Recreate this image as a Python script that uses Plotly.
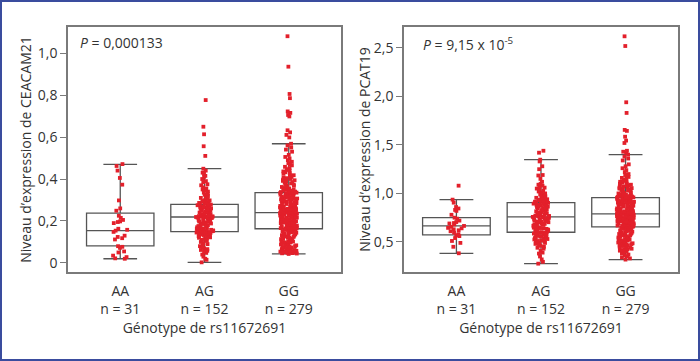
import plotly.graph_objects as go
from plotly.subplots import make_subplots

genotypes = ["AA", "AG", "GG"]
counts = [31, 152, 279]

# ---- CEACAM21 expression (left panel) ----
cea_AA = [0.471, 0.462, 0.44, 0.405, 0.373, 0.298, 0.26, 0.249, 0.225, 0.215, 0.205,
          0.198, 0.195, 0.19, 0.163, 0.158, 0.154, 0.148, 0.13, 0.124, 0.118, 0.112,
          0.08, 0.077, 0.072, 0.055, 0.05, 0.035, 0.028, 0.022, 0.02]
cea_AG = [0.776, 0.649, 0.613, 0.556, 0.51, 0.449, 0.44, 0.43, 0.425, 0.415, 0.41, 0.40,
          0.39, 0.385, 0.375, 0.37, 0.36, 0.355, 0.35, 0.345, 0.34, 0.335, 0.33, 0.325,
          0.32, 0.315, 0.31, 0.305, 0.30, 0.298, 0.295, 0.292, 0.29, 0.288, 0.286, 0.284,
          0.282, 0.28,
          0.278, 0.276, 0.275, 0.273, 0.27, 0.268, 0.267, 0.265, 0.262, 0.26, 0.258, 0.256,
          0.255, 0.252, 0.25, 0.248, 0.246, 0.245, 0.243, 0.241, 0.24, 0.238, 0.236, 0.235,
          0.233, 0.231, 0.23, 0.229, 0.227, 0.226, 0.225, 0.224, 0.223, 0.222, 0.221, 0.22,
          0.22, 0.219,
          0.218, 0.216, 0.214, 0.212, 0.21, 0.208, 0.205, 0.203, 0.2, 0.198, 0.196, 0.193,
          0.19, 0.188, 0.186, 0.184, 0.182, 0.18, 0.178, 0.176, 0.174, 0.172, 0.17, 0.168,
          0.166, 0.165, 0.163, 0.162, 0.16, 0.159, 0.158, 0.156, 0.155, 0.154, 0.153, 0.152,
          0.151, 0.15,
          0.148, 0.147, 0.146, 0.145, 0.143, 0.142, 0.14, 0.138, 0.137, 0.135, 0.133, 0.131,
          0.13, 0.128, 0.125, 0.122, 0.12, 0.117, 0.114, 0.11, 0.105, 0.1, 0.095, 0.09,
          0.085, 0.08, 0.075, 0.07, 0.066, 0.062, 0.058, 0.053, 0.048, 0.04, 0.03, 0.02,
          0.015, 0.003]
cea_GG = [1.08, 0.935, 0.805, 0.785, 0.722, 0.715, 0.705, 0.698, 0.632, 0.622, 0.61, 0.598,
          0.568, 0.56, 0.55, 0.54, 0.53, 0.515, 0.505, 0.498, 0.49, 0.482, 0.475, 0.47, 0.465,
          0.458, 0.452, 0.447, 0.443, 0.44, 0.436, 0.432, 0.428, 0.425, 0.421, 0.418, 0.414,
          0.41, 0.407, 0.404, 0.40, 0.397, 0.394, 0.391, 0.388, 0.385, 0.382, 0.379, 0.376,
          0.373, 0.37, 0.368, 0.365, 0.362, 0.36, 0.357, 0.355, 0.352, 0.35, 0.348, 0.346,
          0.344, 0.342, 0.34, 0.339, 0.338, 0.337, 0.336, 0.335, 0.335,
          0.334, 0.333, 0.331, 0.33, 0.328, 0.327, 0.325, 0.323, 0.322, 0.32,
          0.318, 0.317, 0.315, 0.314, 0.312, 0.31, 0.309, 0.307, 0.306, 0.304,
          0.302, 0.301, 0.299, 0.298, 0.296, 0.295, 0.293, 0.291, 0.29, 0.288,
          0.287, 0.285, 0.284, 0.282, 0.281, 0.279, 0.278, 0.276, 0.275, 0.273,
          0.272, 0.27, 0.269, 0.267, 0.266, 0.264, 0.263, 0.262, 0.26, 0.259,
          0.258, 0.256, 0.255, 0.254, 0.253, 0.252, 0.25, 0.249, 0.248, 0.247,
          0.246, 0.245, 0.244, 0.244, 0.243, 0.242, 0.242, 0.241, 0.24,
          0.24,
          0.239, 0.238, 0.237, 0.236, 0.235, 0.234, 0.233, 0.232, 0.231, 0.23,
          0.229, 0.227, 0.226, 0.225, 0.224, 0.222, 0.221, 0.22, 0.219, 0.217,
          0.216, 0.215, 0.213, 0.212, 0.211, 0.209, 0.208, 0.207, 0.205, 0.204,
          0.203, 0.201, 0.2, 0.199, 0.197, 0.196, 0.195, 0.193, 0.192, 0.191,
          0.189, 0.188, 0.187, 0.185, 0.184, 0.183, 0.181, 0.18, 0.179, 0.178,
          0.177, 0.175, 0.174, 0.173, 0.172, 0.171, 0.17, 0.169, 0.168, 0.167,
          0.166, 0.166, 0.165, 0.165, 0.164, 0.164, 0.163, 0.163, 0.163,
          0.162, 0.161, 0.16, 0.158, 0.157, 0.155, 0.154, 0.152, 0.15, 0.149,
          0.147, 0.145, 0.144, 0.142, 0.14, 0.138, 0.136, 0.134, 0.132, 0.13,
          0.128, 0.126, 0.124, 0.122, 0.12, 0.118, 0.116, 0.114, 0.112, 0.11,
          0.108, 0.106, 0.104, 0.102, 0.1, 0.098, 0.096, 0.094, 0.092, 0.09,
          0.088, 0.086, 0.084, 0.082, 0.08, 0.078, 0.076, 0.074, 0.072, 0.07,
          0.068, 0.066, 0.064, 0.062, 0.06, 0.058, 0.057, 0.056, 0.055, 0.054,
          0.053, 0.052, 0.051, 0.05, 0.049, 0.048, 0.047, 0.046, 0.045, 0.043]
cea_q1 = [0.081, 0.149, 0.163]
cea_median = [0.154, 0.219, 0.240]
cea_q3 = [0.237, 0.279, 0.335]
cea_lower = [0.020, 0.003, 0.043]
cea_upper = [0.470, 0.449, 0.568]

# ---- PCAT19 expression (right panel) ----
pcat_AA = [1.08, 0.936, 0.905, 0.86, 0.845, 0.83, 0.82, 0.78, 0.75, 0.74, 0.72, 0.705,
           0.695, 0.69, 0.68, 0.665, 0.655, 0.645, 0.64, 0.63, 0.62, 0.61, 0.595, 0.58,
           0.57, 0.56, 0.54, 0.51, 0.49, 0.45, 0.383]
pcat_AG = [1.44, 1.42, 1.348, 1.33, 1.28, 1.25, 1.19, 1.185, 1.15, 1.12, 1.1, 1.09, 1.08,
           1.07, 1.06, 1.05, 1.04, 1.03, 1.02, 1.01, 1.0, 0.99, 0.985, 0.975, 0.97, 0.96,
           0.955, 0.95, 0.945, 0.94, 0.935, 0.93, 0.925, 0.92, 0.915, 0.912, 0.908, 0.906,
           0.903, 0.899, 0.895, 0.89, 0.886, 0.882, 0.878, 0.873, 0.868, 0.864,
           0.86, 0.855, 0.85, 0.846, 0.842, 0.838, 0.833, 0.829, 0.825, 0.82,
           0.816, 0.812, 0.808, 0.804, 0.8, 0.796, 0.792, 0.788, 0.784, 0.78,
           0.777, 0.774, 0.771, 0.768, 0.765, 0.762, 0.76, 0.758,
           0.755, 0.751, 0.747, 0.743, 0.739, 0.735, 0.731, 0.727, 0.723, 0.719,
           0.715, 0.711, 0.707, 0.703, 0.699, 0.695, 0.691, 0.687, 0.683, 0.679,
           0.675, 0.671, 0.667, 0.663, 0.659, 0.655, 0.651, 0.647, 0.643, 0.639,
           0.635, 0.631, 0.627, 0.622, 0.617, 0.612, 0.606, 0.601,
           0.598, 0.594, 0.59, 0.586, 0.582, 0.578, 0.574, 0.57, 0.565, 0.56,
           0.555, 0.55, 0.545, 0.54, 0.535, 0.53, 0.525, 0.52, 0.515, 0.51,
           0.505, 0.5, 0.495, 0.49, 0.485, 0.48, 0.47, 0.46, 0.45, 0.44,
           0.43, 0.41, 0.39, 0.38, 0.35, 0.32, 0.295, 0.276]
pcat_GG = [2.62, 2.52, 1.94, 1.83, 1.655, 1.645, 1.585, 1.545, 1.52, 1.44, 1.43, 1.42,
           1.40,
           1.38, 1.36, 1.34, 1.3, 1.28, 1.26, 1.24, 1.22, 1.2, 1.19,
           1.18, 1.17, 1.16, 1.15, 1.14, 1.13, 1.125, 1.12, 1.11, 1.105,
           1.1, 1.095, 1.09, 1.085, 1.08, 1.075, 1.07, 1.065, 1.06, 1.055,
           1.05, 1.045, 1.04, 1.035, 1.03, 1.025, 1.02, 1.015, 1.01, 1.005,
           1.0, 0.996, 0.992, 0.988, 0.985, 0.982, 0.979, 0.976, 0.973, 0.97,
           0.968, 0.966, 0.964, 0.962, 0.96, 0.959, 0.958,
           0.955, 0.953, 0.95, 0.948, 0.945, 0.943, 0.94, 0.938, 0.935, 0.933,
           0.93, 0.928, 0.925, 0.923, 0.92, 0.918, 0.915, 0.913, 0.91, 0.908,
           0.905, 0.903, 0.9, 0.897, 0.894, 0.891, 0.888, 0.885, 0.882, 0.879,
           0.876, 0.873, 0.87, 0.867, 0.864, 0.861, 0.858, 0.855, 0.852, 0.849,
           0.846, 0.843, 0.84, 0.837, 0.834, 0.831, 0.828, 0.825, 0.822, 0.819,
           0.816, 0.813, 0.81, 0.808, 0.806, 0.804, 0.802, 0.8, 0.798, 0.797,
           0.796, 0.795, 0.794, 0.793, 0.792, 0.792, 0.791, 0.791, 0.79,
           0.79,
           0.789, 0.787, 0.785, 0.783, 0.781, 0.779, 0.777, 0.775, 0.773, 0.771,
           0.769, 0.767, 0.765, 0.763, 0.761, 0.759, 0.757, 0.755, 0.753, 0.751,
           0.749, 0.747, 0.745, 0.743, 0.741, 0.739, 0.737, 0.735, 0.733, 0.731,
           0.729, 0.727, 0.725, 0.723, 0.721, 0.719, 0.717, 0.715, 0.713, 0.711,
           0.709, 0.707, 0.705, 0.703, 0.701, 0.699, 0.697, 0.695, 0.693, 0.691,
           0.689, 0.687, 0.685, 0.683, 0.681, 0.679, 0.677, 0.675, 0.673, 0.671,
           0.669, 0.667, 0.665, 0.663, 0.661, 0.659, 0.658, 0.657, 0.656,
           0.654, 0.65, 0.646, 0.642, 0.638, 0.634, 0.63, 0.626, 0.622, 0.618,
           0.614, 0.61, 0.606, 0.602, 0.598, 0.594, 0.59, 0.586, 0.582, 0.578,
           0.574, 0.57, 0.566, 0.562, 0.558, 0.554, 0.55, 0.546, 0.542, 0.538,
           0.534, 0.53, 0.526, 0.522, 0.518, 0.514, 0.51, 0.506, 0.502, 0.498,
           0.494, 0.49, 0.486, 0.482, 0.478, 0.474, 0.47, 0.466, 0.462, 0.458,
           0.454, 0.45, 0.445, 0.44, 0.435, 0.43, 0.425, 0.42, 0.415, 0.41,
           0.405, 0.4, 0.39, 0.38, 0.37, 0.36, 0.35, 0.34, 0.33, 0.318]
pcat_q1 = [0.572, 0.600, 0.655]
pcat_median = [0.665, 0.758, 0.790]
pcat_q3 = [0.750, 0.905, 0.957]
pcat_lower = [0.383, 0.276, 0.318]
pcat_upper = [0.936, 1.348, 1.400]

left_ticks = [0, 0.2, 0.4, 0.6, 0.8, 1.0]
left_ticktext = ["0", "0,2", "0,4", "0,6", "0,8", "1,0"]
right_ticks = [0.5, 1.0, 1.5, 2.0, 2.5]
right_ticktext = ["0,5", "1,0", "1,5", "2,0", "2,5"]

xlabels = [f"{g}<br>n = {n}" for g, n in zip(genotypes, counts)]
x_title = "Génotype de rs11672691"
y_titles = ["Niveau d’expression de CEACAM21", "Niveau d’expression de PCAT19"]
p_texts = ["<i>P</i> = 0,000133", "<i>P</i> = 9,15 x 10<sup>-5</sup>"]

RED = "#e3202b"
BOXC = "#555555"
FRAME = "#7a7a7a"
TXT = "#333333"
FONT = "Open Sans"

W, H = 700, 361
ML, MR, MT, MB = 68, 22, 27, 89

fig = make_subplots(rows=1, cols=2, horizontal_spacing=0.1033)

panels = [
    (cea_AA, cea_AG, cea_GG, cea_q1, cea_median, cea_q3, cea_lower, cea_upper),
    (pcat_AA, pcat_AG, pcat_GG, pcat_q1, pcat_median, pcat_q3, pcat_lower, pcat_upper),
]

for c, (a, b, g, q1, med, q3, lo, up) in enumerate(panels, start=1):
    fig.add_trace(go.Box(
        x=genotypes, q1=q1, median=med, q3=q3, lowerfence=lo, upperfence=up,
        boxpoints=False, fillcolor="white", width=0.8, whiskerwidth=0.5,
        line=dict(color=BOXC, width=1.3), showlegend=False, hoverinfo="skip"),
        row=1, col=c)
    groups = [a, b, g]
    xs = [gt for gt, vals in zip(genotypes, groups) for _ in vals]
    ys = [v for vals in groups for v in vals]
    fig.add_trace(go.Box(
        x=xs, y=ys, boxpoints="all", jitter=0.26, pointpos=0, width=0.8,
        fillcolor="rgba(0,0,0,0)", line=dict(color="rgba(0,0,0,0)", width=0),
        whiskerwidth=0,
        marker=dict(symbol="square", size=3.8, color=RED, line=dict(width=0)),
        showlegend=False), row=1, col=c)

fig.update_layout(
    width=W, height=H, margin=dict(l=ML, r=MR, t=MT, b=MB),
    paper_bgcolor="white", plot_bgcolor="white", boxmode="overlay",
    font=dict(family=FONT, size=14, color=TXT), showlegend=False,
)

for c in (1, 2):
    fig.update_xaxes(
        row=1, col=c, type="category", categoryorder="array", categoryarray=genotypes,
        range=[-0.62, 2.62], tickvals=genotypes, ticktext=xlabels,
        ticks="outside", ticklen=5, tickcolor="rgba(0,0,0,0)",
        showline=True, mirror=True, linecolor=FRAME, linewidth=1.5, showgrid=False,
        zeroline=False, tickfont=dict(size=14, color=TXT),
        title=dict(text=x_title, standoff=2, font=dict(size=14, color=TXT)))

fig.update_yaxes(row=1, col=1, range=[-0.043, 1.124], tickvals=left_ticks,
                 ticktext=left_ticktext, title_standoff=3)
fig.update_yaxes(row=1, col=2, range=[0.19, 2.716], tickvals=right_ticks,
                 ticktext=right_ticktext, title_standoff=0)
for c in (1, 2):
    fig.update_yaxes(
        row=1, col=c, ticks="outside", ticklen=6, tickwidth=1.3, tickcolor=FRAME,
        showline=True, mirror=True, linecolor=FRAME, linewidth=1.5, showgrid=False,
        zeroline=False, tickfont=dict(size=14, color=TXT),
        title_text=y_titles[c - 1], title_font=dict(size=14, color=TXT))

fig.update_layout(xaxis=dict(domain=[0, 0.4475]), xaxis2=dict(domain=[0.5508, 1]))

fig.add_annotation(xref="x domain", yref="y domain", x=0.037, y=0.935,
                   xanchor="left", yanchor="middle", text=p_texts[0], showarrow=False,
                   font=dict(size=14, color=TXT))
fig.add_annotation(xref="x2 domain", yref="y2 domain", x=0.062, y=0.931,
                   xanchor="left", yanchor="middle", text=p_texts[1], showarrow=False,
                   font=dict(size=14, color=TXT))

pw, ph = W - ML - MR, H - MT - MB
fig.add_shape(type="rect", xref="paper", yref="paper",
              x0=(1 - ML) / pw, x1=(W - 1 - ML) / pw,
              y0=(1 - MB) / ph, y1=(H - 1 - MB) / ph,
              line=dict(color="#3a4c9e", width=2), fillcolor="rgba(0,0,0,0)", layer="above")

fig.write_html("out.html", config={"displayModeBar": False},
               post_script="document.body.style.margin='0px';")
